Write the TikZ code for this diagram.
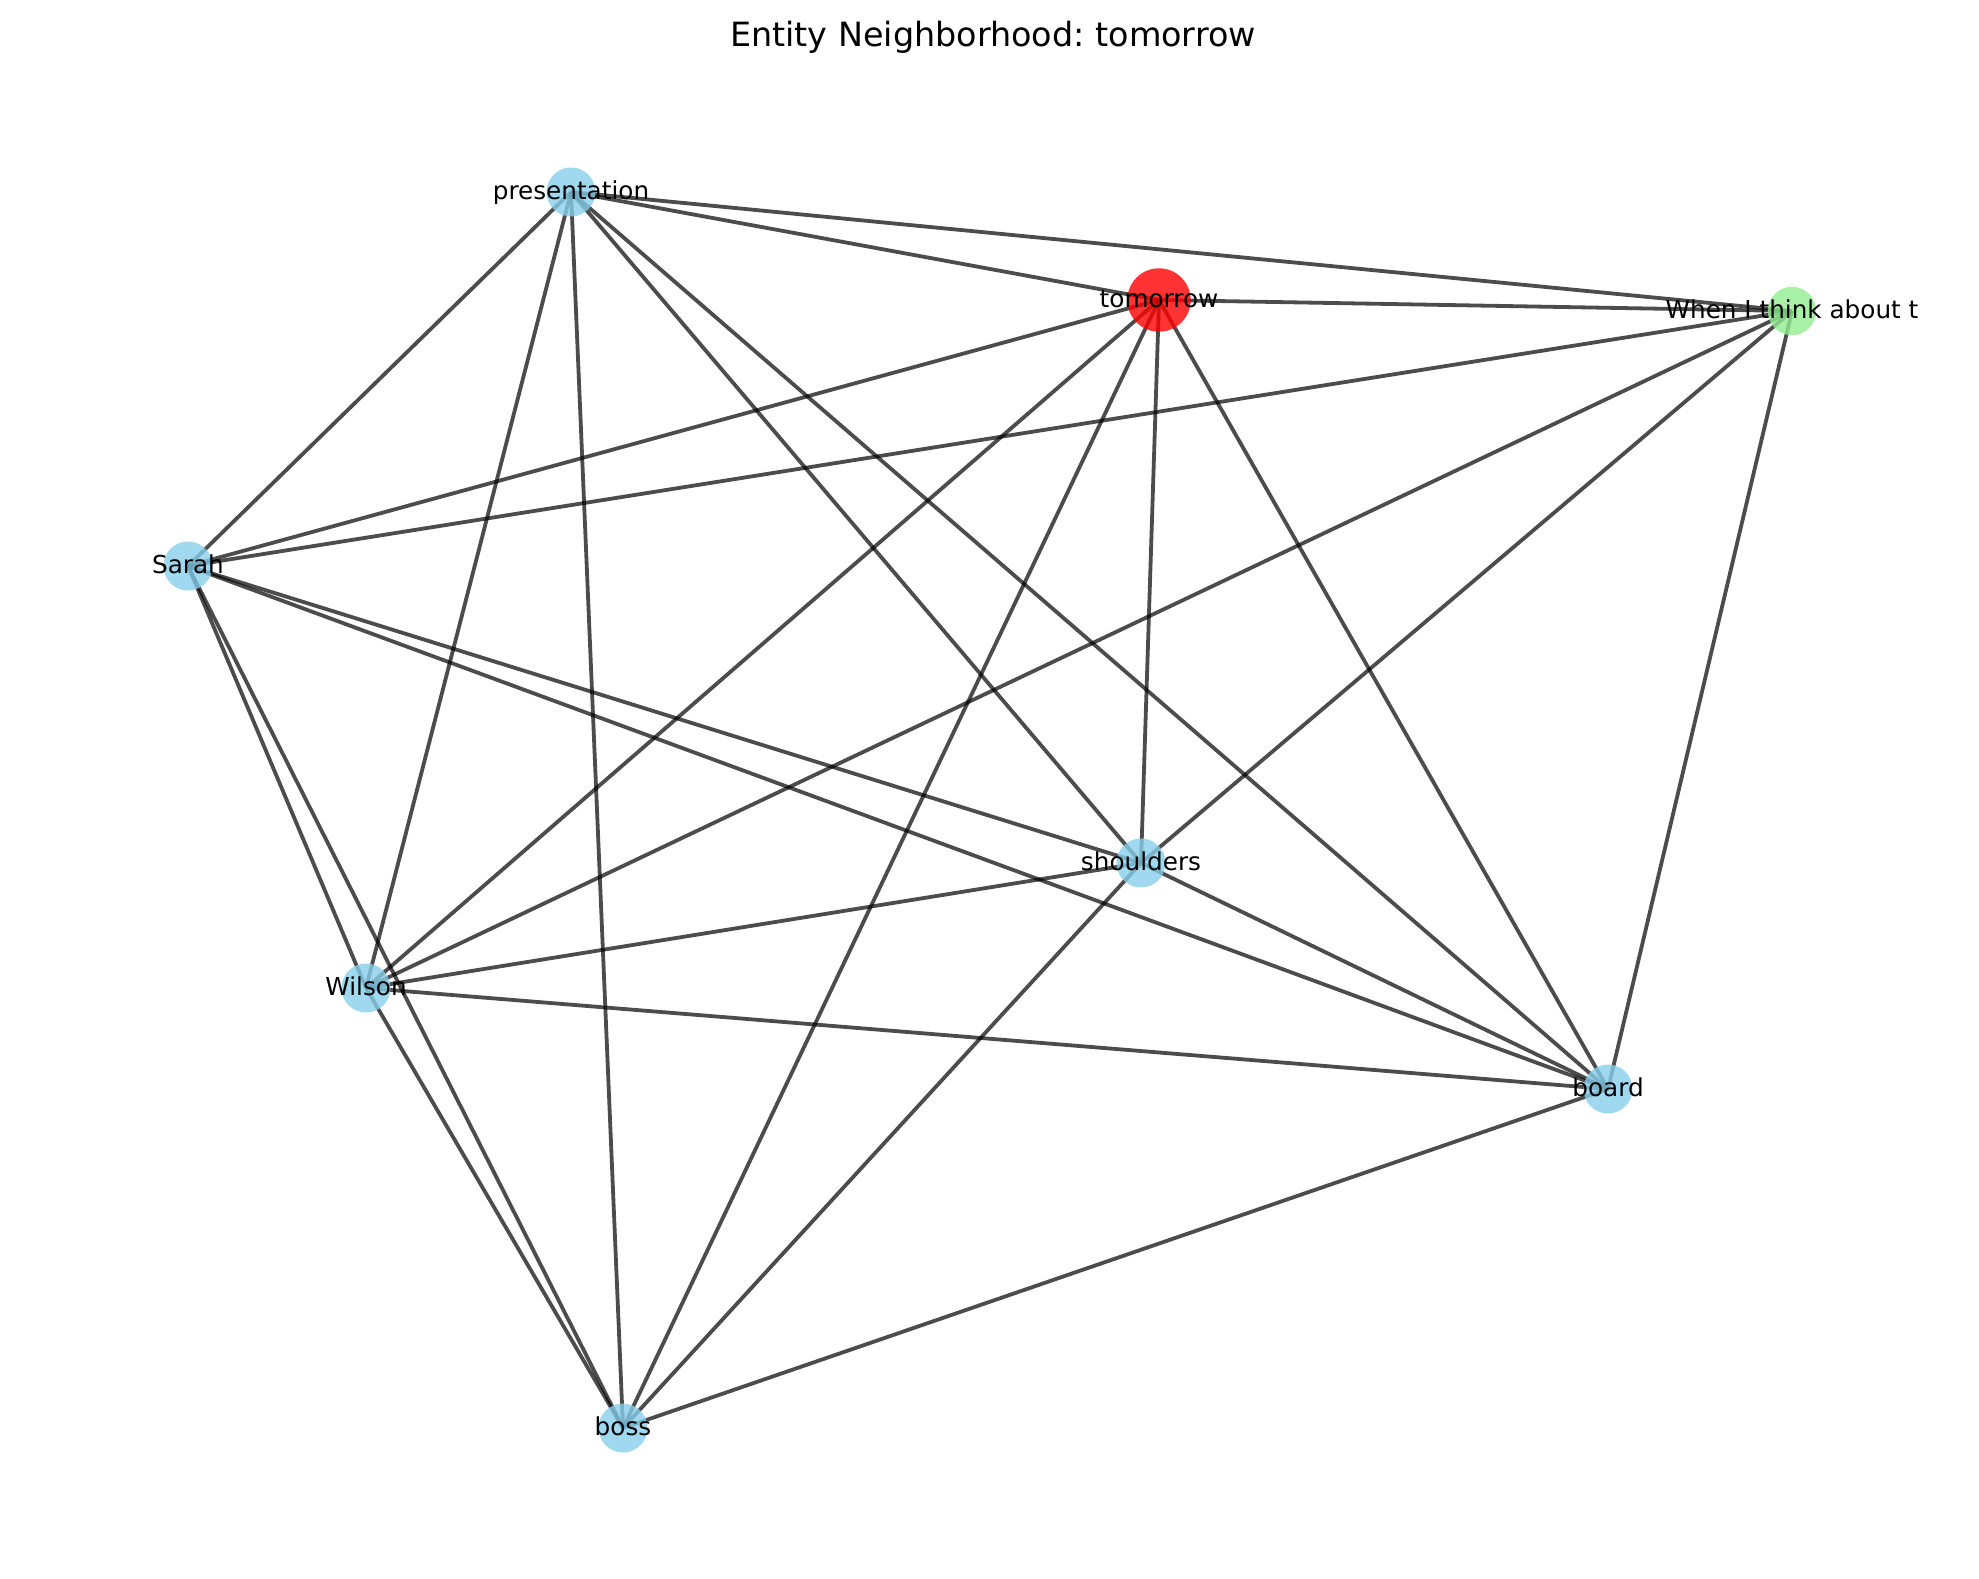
\documentclass[tikz,border=0pt]{standalone}
\usepackage{fontspec}
\setmainfont{DejaVu Sans}
\usepackage{tikz}
\usetikzlibrary{backgrounds}
\frenchspacing

\definecolor{skyblue}{HTML}{87CEEB}
\definecolor{lightgreen}{HTML}{90EE90}

\tikzset{
	vertex/.style={circle, inner sep=0pt, minimum size=24.5pt, fill=skyblue, fill opacity=0.8, draw=none},
	lbl/.style={inner sep=0pt, text opacity=1, fill opacity=1, font=\fontsize{12.35}{14}\selectfont, text height=9pt, text depth=2pt},
	link/.style={draw=black, draw opacity=0.7, line width=1.9pt},
}

\begin{document}
\begin{tikzpicture}[x=0.5pt, y=-0.5pt]
\useasboundingbox (0,0) rectangle (1979,1578);
\node[anchor=base, font=\fontsize{16.7}{20}\selectfont] (title) at (993,47) {Entity Neighborhood: tomorrow};

	\node[vertex, label={[lbl]center:presentation}] (presentation) at (571,192) {};
	\node[vertex, fill=red, minimum size=31.7pt, label={[lbl]center:tomorrow}] (tomorrow) at (1159,300) {};
	\node[vertex, fill=lightgreen, minimum size=24.2pt, label={[lbl]center:When I think about t}] (when) at (1792,311) {};
	\node[vertex, label={[lbl]center:Sarah}] (sarah) at (188,566) {};
	\node[vertex, label={[lbl]center:shoulders}] (shoulders) at (1141,863) {};
	\node[vertex, label={[lbl]center:Wilson}] (wilson) at (366,988) {};
	\node[vertex, label={[lbl]center:board}] (board) at (1608,1089) {};
	\node[vertex, label={[lbl]center:boss}] (boss) at (623,1428) {};

\begin{pgfonlayer}{background}
	\draw[link] (presentation.center) -- (tomorrow.center);
	\draw[link] (presentation.center) -- (when.center);
	\draw[link] (presentation.center) -- (sarah.center);
	\draw[link] (presentation.center) -- (wilson.center);
	\draw[link] (presentation.center) -- (boss.center);
	\draw[link] (presentation.center) -- (shoulders.center);
	\draw[link] (presentation.center) -- (board.center);
	\draw[link] (tomorrow.center) -- (when.center);
	\draw[link] (tomorrow.center) -- (sarah.center);
	\draw[link] (tomorrow.center) -- (wilson.center);
	\draw[link] (tomorrow.center) -- (boss.center);
	\draw[link] (tomorrow.center) -- (shoulders.center);
	\draw[link] (tomorrow.center) -- (board.center);
	\draw[link] (when.center) -- (sarah.center);
	\draw[link] (when.center) -- (wilson.center);
	\draw[link] (when.center) -- (shoulders.center);
	\draw[link] (when.center) -- (board.center);
	\draw[link] (sarah.center) -- (shoulders.center);
	\draw[link] (sarah.center) -- (board.center);
	\draw[link] (sarah.center) -- (wilson.center);
	\draw[link] (sarah.center) -- (boss.center);
	\draw[link] (shoulders.center) -- (wilson.center);
	\draw[link] (shoulders.center) -- (boss.center);
	\draw[link] (shoulders.center) -- (board.center);
	\draw[link] (wilson.center) -- (board.center);
	\draw[link] (wilson.center) -- (boss.center);
	\draw[link] (board.center) -- (boss.center);
\end{pgfonlayer}
\end{tikzpicture}
\end{document}
